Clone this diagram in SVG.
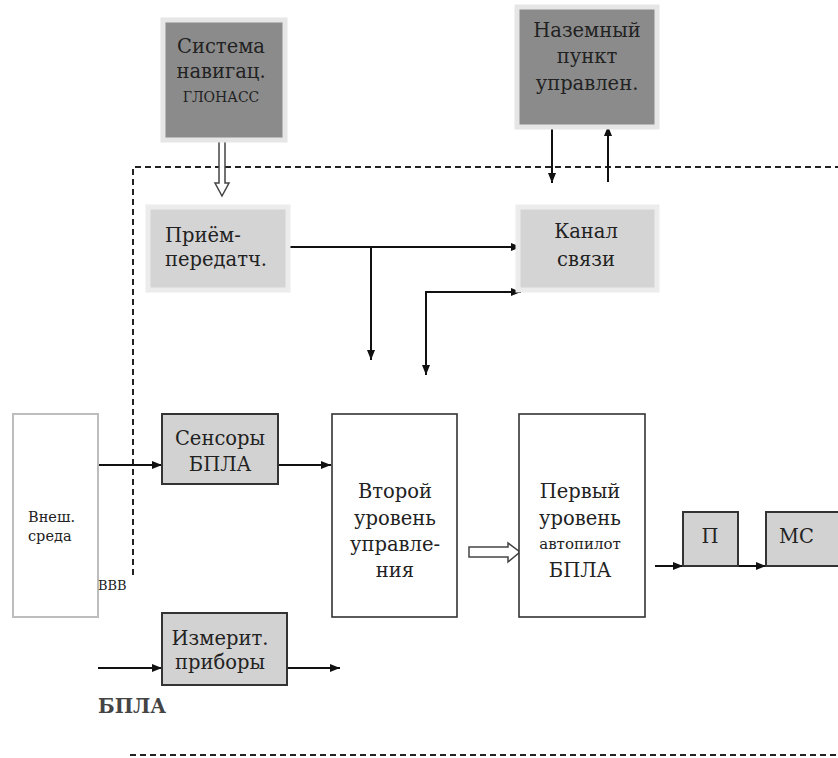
<svg xmlns="http://www.w3.org/2000/svg" width="838" height="758" viewBox="0 0 838 758">
<defs>
<marker id="ah" viewBox="0 0 10 8" refX="10" refY="4" markerWidth="10" markerHeight="8" markerUnits="userSpaceOnUse" orient="auto">
<path d="M0,0 L10,4 L0,8 Z" fill="#111"/>
</marker>
</defs>
<style>
text{font-family:"DejaVu Serif","Liberation Serif","Noto Serif",serif}
.t22{font-size:19.5px}
.t17{font-size:15px}
.c{text-anchor:middle}
.dark{fill:#8b8b8b;stroke:#e6e6e6;stroke-width:5}
.light{fill:#d4d4d4;stroke:#ececec;stroke-width:5}
.gbox{fill:#d2d2d2;stroke:#333;stroke-width:2}
.wbox{fill:#fff;stroke:#333;stroke-width:1.6}
.line{fill:none;stroke:#111;stroke-width:2}
.dash{fill:none;stroke:#222;stroke-width:2;stroke-dasharray:6 4}
.hollow{fill:#fff;stroke:#444;stroke-width:1.5}
</style>
<rect width="838" height="758" fill="#fff"/>

<g id="connectors">
<polyline class="dash" points="133,575 133,167 838,167"/>
<line class="dash" x1="130" y1="755" x2="838" y2="755"/>
<polygon class="hollow" points="219,140 225,140 225,183 229,183 222,196 215,183 219,183"/>
<line class="line" x1="552" y1="127" x2="552" y2="183" marker-end="url(#ah)"/>
<line class="line" x1="608" y1="182" x2="608" y2="126" marker-end="url(#ah)"/>
<line class="line" x1="288" y1="247" x2="521" y2="247" marker-end="url(#ah)"/>
<line class="line" x1="371" y1="247" x2="371" y2="360" marker-end="url(#ah)"/>
<polyline class="line" points="426,300 426,292 521,292" marker-end="url(#ah)"/>
<line class="line" x1="426" y1="292" x2="426" y2="375" marker-end="url(#ah)"/>
<line class="line" x1="98" y1="465" x2="162" y2="465" marker-end="url(#ah)"/>
<line class="line" x1="278" y1="465" x2="331" y2="465" marker-end="url(#ah)"/>
<polygon class="hollow" points="469,547 508,547 508,543 520,552 508,562 508,557 469,557"/>
<line class="line" x1="655" y1="566" x2="683" y2="566" marker-end="url(#ah)"/>
<line class="line" x1="738" y1="566" x2="766" y2="566" marker-end="url(#ah)"/>
<line class="line" x1="98" y1="668" x2="162" y2="668" marker-end="url(#ah)"/>
<line class="line" x1="287" y1="668" x2="340" y2="668" marker-end="url(#ah)"/>
</g>

<g fill="#222">
<g id="glonass">
<rect class="dark" x="163" y="20" width="122" height="120"/>
<text class="t22 c" x="221" y="53">Система</text>
<text class="t22 c" x="221" y="78">навигац.</text>
<text class="c" x="221" y="102" font-size="14">ГЛОНАСС</text>
</g>

<g id="ground">
<rect class="dark" x="517" y="7" width="140" height="120"/>
<text class="t22 c" x="587" y="37">Наземный</text>
<text class="t22 c" x="587" y="63">пункт</text>
<text class="t22 c" x="587" y="90">управлен.</text>
</g>

<g id="transceiver">
<rect class="light" x="148" y="207" width="140" height="83"/>
<text class="t22" x="165" y="242">Приём-</text>
<text class="t22" x="165" y="266">передатч.</text>
</g>

<g id="channel">
<rect class="light" x="518" y="207" width="139" height="83"/>
<text class="t22 c" x="586" y="238">Канал</text>
<text class="t22 c" x="586" y="266">связи</text>
</g>

<g id="env">
<rect x="13" y="414" width="85" height="203" fill="#fff" stroke="#bdbdbd" stroke-width="2"/>
<text x="28" y="522" font-size="14.5">Внеш.</text>
<text x="28" y="541" font-size="14.5">среда</text>
</g>

<g id="vvv">
<text x="98" y="590" font-size="13">ВВВ</text>
</g>

<g id="sensors">
<rect class="gbox" x="162" y="414" width="116" height="70"/>
<text class="t22 c" x="220" y="445">Сенсоры</text>
<text class="t22 c" x="220" y="471">БПЛА</text>
</g>

<g id="level2">
<rect class="wbox" x="332" y="414" width="125" height="203"/>
<text class="t22 c" x="395" y="498">Второй</text>
<text class="t22 c" x="395" y="525">уровень</text>
<text class="t22 c" x="395" y="551">управле-</text>
<text class="t22 c" x="395" y="577">ния</text>
</g>

<g id="level1">
<rect class="wbox" x="519" y="414" width="126" height="203"/>
<text class="t22 c" x="580" y="498">Первый</text>
<text class="t22 c" x="580" y="525">уровень</text>
<text class="t17 c" x="580" y="549">автопилот</text>
<text class="t22 c" x="580" y="577">БПЛА</text>
</g>

<g id="p">
<rect class="gbox" x="683" y="512" width="55" height="54"/>
<text class="t22 c" x="710" y="543">П</text>
</g>

<g id="ms">
<rect class="gbox" x="766" y="512" width="80" height="54"/>
<text class="t22" x="779" y="543">МС</text>
</g>

<g id="instruments">
<rect class="gbox" x="162" y="613" width="125" height="72"/>
<text class="t22 c" x="220" y="645">Измерит.</text>
<text class="t22 c" x="220" y="669">приборы</text>
</g>

<g id="uav-label">
<text x="98" y="713" font-size="19.5" font-weight="bold" fill="#444">БПЛА</text>
</g>
</g>
</svg>
